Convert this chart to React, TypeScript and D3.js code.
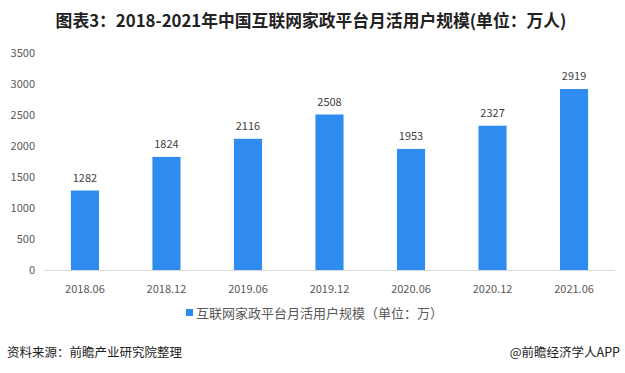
import React from 'react';
import * as d3 from 'd3';

const categories = ['2018.06', '2018.12', '2019.06', '2019.12', '2020.06', '2020.12', '2021.06'];
const users = [1282, 1824, 2116, 2508, 1953, 2327, 2919];
const yTicks = [0, 500, 1000, 1500, 2000, 2500, 3000, 3500];

const W = 625;
const H = 373;
const font = '"Noto Sans CJK SC", "Microsoft YaHei", sans-serif';

const App = () => {
  const x = d3.scaleBand().domain(categories).range([44, 615]).paddingInner(0.655).paddingOuter(0.33);
  const y = d3.scaleLinear().domain([0, 3500]).range([270, 53]);

  return (
    <svg width={W} height={H} style={{ position: 'absolute', left: 0, top: 0, background: '#fff' }}>
      <text x={311} y={27} textAnchor="middle" fontFamily={font} fontWeight="bold" fontSize={16.8} fill="#222">
        图表3：2018-2021年中国互联网家政平台月活用户规模(单位：万人)
      </text>

      {yTicks.map(t => (
        <text key={t} x={35} y={y(t) + 4} textAnchor="end" fontFamily={font} fontSize={11} fill="#595959">
          {t}
        </text>
      ))}

      <line x1={44} x2={615} y1={y(0) + 0.5} y2={y(0) + 0.5} stroke="#d9d9d9" />

      {categories.map((c, i) => (
        <g key={c}>
          <rect x={x(c)} y={y(users[i])} width={x.bandwidth()} height={y(0) - y(users[i])} fill="#2e8cf0" />
          <text x={x(c)! + x.bandwidth() / 2} y={y(users[i]) - 9} textAnchor="middle" fontFamily={font} fontSize={11} fill="#404040">
            {users[i]}
          </text>
          <text x={x(c)! + x.bandwidth() / 2} y={293} textAnchor="middle" fontFamily={font} fontSize={11} fill="#595959">
            {c}
          </text>
        </g>
      ))}

      <rect x={186} y={309} width={7} height={7} fill="#2e8cf0" />
      <text x={196} y={318} fontFamily={font} fontSize={13} fill="#595959">
        互联网家政平台月活用户规模（单位：万）
      </text>

      <text x={7} y={357} fontFamily={font} fontSize={12.5} fill="#222">
        资料来源：前瞻产业研究院整理
      </text>
      <text x={620} y={357} textAnchor="end" fontFamily={font} fontSize={12.5} fill="#222">
        @前瞻经济学人APP
      </text>
    </svg>
  );
};

export default App;
